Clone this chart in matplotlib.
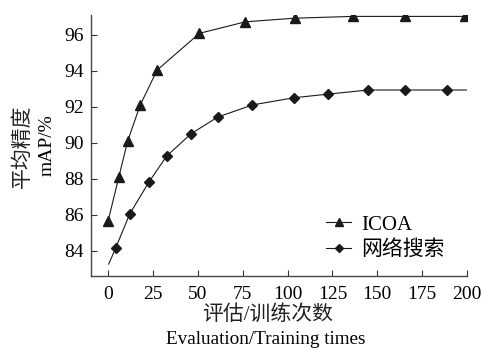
import numpy as np
import matplotlib
matplotlib.use("Agg")
import matplotlib.pyplot as plt

plt.rcParams['font.family'] = ['Liberation Serif', 'Noto Sans CJK SC']

# ICOA
icoa_x = [0, 5.9, 10.9, 17.8, 27.3, 50.9, 76.5, 103.9, 136.3, 165.6, 199]
icoa_y = [85.66, 88.08, 90.1, 92.08, 94.04, 96.08, 96.72, 96.92, 97.02, 97.02, 97.02]

# grid search (line starts before first marker)
grid_line_x = [0.3, 4.1, 12.0, 22.6, 32.6, 46.2, 61.1, 80.4, 103.4, 122.3, 144.8, 165.2, 189.0, 200]
grid_line_y = [83.26, 84.13, 86.04, 87.8, 89.26, 90.5, 91.43, 92.1, 92.5, 92.7, 92.93, 92.93, 92.93, 92.93]
grid_x = grid_line_x[1:-1]
grid_y = grid_line_y[1:-1]

xticks = [0, 25, 50, 75, 100, 125, 150, 175, 200]
yticks = [84, 86, 88, 90, 92, 94, 96]

fig = plt.figure(figsize=(4.82, 3.48), dpi=100)
ax = fig.add_axes([0.189, 0.207, 0.78, 0.75])

c = '#1a1a1a'
ax.plot(icoa_x, icoa_y, color=c, lw=0.8, marker='^', ms=7.5)
ax.plot(grid_line_x, grid_line_y, color=c, lw=0.8)
ax.plot(grid_x, grid_y, color=c, lw=0, marker='D', ms=5.5)
# legend proxies
ax.plot([], [], color=c, lw=0.8, marker='^', ms=6, label='ICOA')
ax.plot([], [], color=c, lw=0.8, marker='D', ms=4.5, label='网络搜索')

ax.set_xlim(-9.5, 200)
ax.set_ylim(82.6, 97.1)
ax.set_xticks(xticks)
ax.set_yticks(yticks)
ax.tick_params(direction='in', labelsize=14, length=4, width=0.8, color='#333333')
ax.tick_params(axis='x', pad=7)
ax.tick_params(axis='y', pad=5)
for s in ['top', 'right']:
    ax.spines[s].set_visible(False)
for s in ['left', 'bottom']:
    ax.spines[s].set_color('#444444')
    ax.spines[s].set_linewidth(1.0)

cjk = dict(fontsize=15, fontweight='light', color='#222222')

# y label: two columns
fig.text(23 / 482, 1 - 146 / 348, '平均精度', rotation=90,
         ha='center', va='center', **cjk)
fig.text(47 / 482, 1 - 145 / 348, 'mAP/%', rotation=90, fontsize=14,
         ha='center', va='center')

# x label: two lines
fig.text(268 / 482, 1 - 315 / 348, '评估/训练次数',
         ha='center', va='center', **cjk)
fig.text(266 / 482, 1 - 339 / 348, 'Evaluation/Training times', fontsize=13.8,
         ha='center', va='center')

leg = ax.legend(loc='lower left', bbox_to_anchor=(0.575, -0.012), frameon=False, fontsize=15,
                handlelength=1.2, handletextpad=0.5, labelspacing=0.28)
for t in leg.get_texts():
    t.set_fontweight('light')

fig.savefig('out.png', dpi=100)
